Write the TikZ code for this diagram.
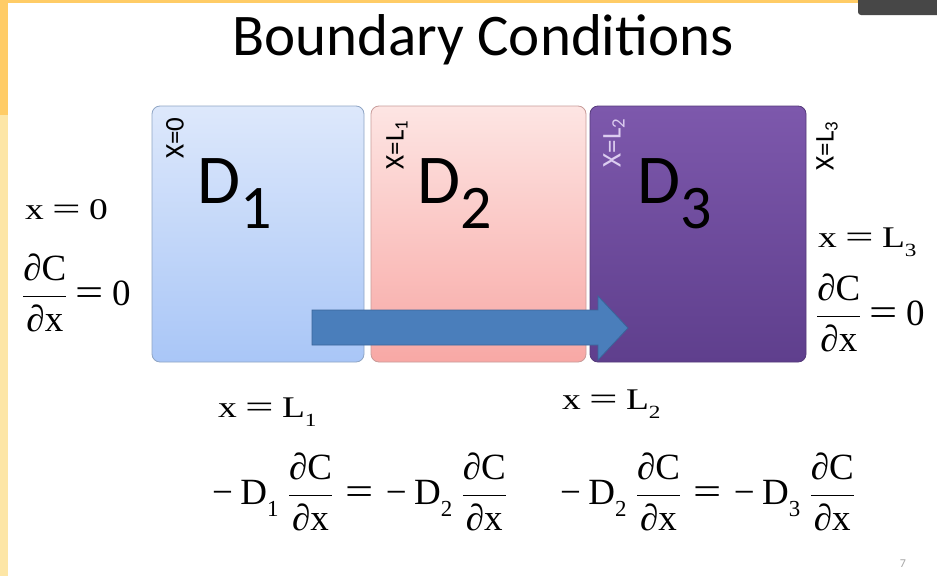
\documentclass[tikz,border=0pt]{standalone}
\usepackage{fix-cm}
\usepackage{fontspec}
\setmainfont{Liberation Serif}
\newfontfamily\carl{Carlito}
\definecolor{orangeA}{HTML}{FFCC66}
\definecolor{orangeB}{HTML}{FDE6A6}
\definecolor{boxAtop}{HTML}{DDE8FB}
\definecolor{boxAbot}{HTML}{A9C6F7}
\definecolor{boxAline}{HTML}{8FA5C4}
\definecolor{boxBtop}{HTML}{FDE5E3}
\definecolor{boxBbot}{HTML}{F8A8A5}
\definecolor{boxBline}{HTML}{C89C9A}
\definecolor{boxCtop}{HTML}{7D58AC}
\definecolor{boxCbot}{HTML}{5F3F8D}
\definecolor{boxCline}{HTML}{553A7A}
\definecolor{arrowfill}{HTML}{4A7EBB}
\definecolor{arrowline}{HTML}{3A659A}
\definecolor{lavender}{HTML}{DCCDF0}
\newcommand\dCdx{$\displaystyle\frac{\mbox{∂C}}{\mbox{∂x}}$}
\newcommand\eqs{\hspace{0.22em}\scalebox{1.35}[1.05]{=}\hspace{0.22em}}
\newcommand\eqsb{\hspace{0.33em}\scalebox{1.35}[1.05]{=}\hspace{0.33em}}
\newcommand\lsub[1]{\raisebox{-0.3em}{\scalebox{0.62}{#1}}}
\newcommand\wide[1]{\scalebox{1.25}[1]{#1}}
\newcommand\mD[1]{−\hspace{0.2em}D\lsub{#1}\hspace{0.25em}}
\tikzset{
  domainbox/.style={rounded corners=8pt, minimum height=256pt, inner sep=0pt, line width=0.8pt},
  bigD/.style={anchor=base west, inner sep=0pt, font=\carl\fontsize{70}{70}\selectfont},
  xlab/.style={rotate=90, inner sep=0pt, font=\carl\fontsize{27}{27}\selectfont},
  eqsmall/.style={anchor=base west, inner sep=0pt, font=\fontsize{30}{34}\selectfont},
  eqbig/.style={anchor=west, inner sep=0pt, font=\fontsize{37}{42}\selectfont},
}
\newcommand\subD[1]{\raisebox{-25pt}{\fontsize{62}{62}\selectfont #1}}
\begin{document}
\begin{tikzpicture}[x=1pt,y=-1pt]
\useasboundingbox (0,0) rectangle (937,576);
\fill[white] (0,0) rectangle (937,576);
% frame strips
\fill[orangeA] (0,0) rectangle (937,3);
\fill[orangeA] (0,0) rectangle (8,115);
\fill[orangeB] (0,115) rectangle (8,576);
\fill[black!72, rounded corners=3pt] (858,-5) rectangle (942,15);
% title
\node[font=\carl\fontsize{59}{59}\selectfont, inner sep=0pt, anchor=base] (title) at (483,55) {Boundary Conditions};
% domains
\node[domainbox, minimum width=212pt, top color=boxAtop, bottom color=boxAbot, draw=boxAline] (d1) at (258,234) {};
\node[domainbox, minimum width=215pt, top color=boxBtop, bottom color=boxBbot, draw=boxBline] (d2) at (478.5,234) {};
\node[domainbox, minimum width=216pt, top color=boxCtop, bottom color=boxCbot, draw=boxCline] (d3) at (698,234) {};
% flux arrow
\filldraw[fill=arrowfill, draw=arrowline, line width=0.8pt, line join=miter]
  (312,310) -- (598,310) -- (598,296) -- (628,328) -- (598,360) -- (598,345) -- (312,345) -- cycle;
% domain labels
\node[bigD] (D1) at (197,203) {D\subD{1}};
\node[bigD] (D2) at (417,203) {D\subD{2}};
\node[bigD] (D3) at (637,203) {D\subD{3}};
% interface labels
\node[xlab] (x0) at (175,138) {X=0};
\node[xlab] (xL1) at (397,145) {X=L\textsubscript{1}};
\node[xlab, text=lavender] (xL2) at (614,143) {X=L\textsubscript{2}};
\node[xlab] (xL3) at (827,146) {X=L\textsubscript{3}};
% boundary conditions
\node[eqsmall] (bc0a) at (25,219) {\wide{x\eqs 0}};
\node[eqbig] (bc0b) at (22,293) {\dCdx\eqs 0};
\node[eqsmall] (bc1a) at (218,417) {\wide{x\eqs L\lsub{1}}};
\node[eqbig] (bc1b) at (212,492) {\mD{1}\dCdx\eqsb\mD{2}\dCdx};
\node[eqsmall] (bc2a) at (562,409) {\wide{x\eqs L\lsub{2}}};
\node[eqbig] (bc2b) at (560,492) {\mD{2}\dCdx\eqsb\mD{3}\dCdx};
\node[eqsmall] (bc3a) at (818,247) {\wide{x\eqs L\lsub{3}}};
\node[eqbig] (bc3b) at (816,313) {\dCdx\eqs 0};
% page number
\node[font=\carl\fontsize{12}{12}\selectfont, text=black!35, inner sep=0pt] (page) at (903,564) {7};
\end{tikzpicture}
\end{document}
